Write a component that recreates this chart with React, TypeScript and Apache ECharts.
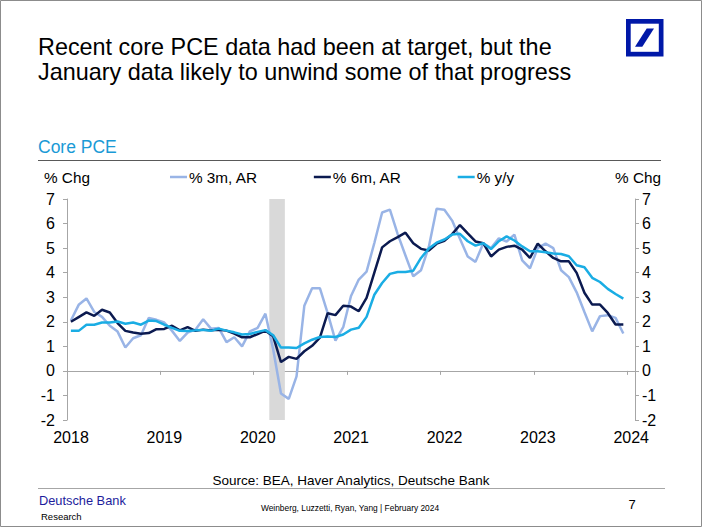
import React, { useEffect, useRef } from "react";
import * as echarts from "echarts";

// Monthly observations, Jan 2018 .. Dec 2023 (index 0 = Jan 2018)
const startYear = 2018;
const yearLabels = ["2018", "2019", "2020", "2021", "2022", "2023", "2024"];

const pce3m = [
  2.05, 2.69, 2.95, 2.4, 2.2, 1.84, 1.6, 0.95, 1.33, 1.45, 2.15, 2.08,
  1.97, 1.63, 1.22, 1.56, 1.68, 2.1, 1.72, 1.75, 1.17, 1.37, 1.0, 1.61,
  1.75, 2.33, 0.87, -0.92, -1.14, -0.22, 2.65, 3.37, 3.37, 2.35, 1.23, 1.78,
  3.05, 3.72, 4.04, 5.21, 6.45, 6.57, 5.57, 4.7, 3.85, 4.1, 5.05, 6.6,
  6.56, 6.12, 5.38, 4.66, 4.44, 5.2, 5.0, 5.4, 5.27, 5.55, 4.5, 4.18,
  5.0, 5.18, 5.0, 4.1, 3.82, 3.2, 2.4, 1.61, 2.23, 2.27, 2.16, 1.52,
];

const pce6m = [
  2.0, 2.19, 2.38, 2.24, 2.49, 2.38, 1.95, 1.63, 1.56, 1.51, 1.54, 1.7,
  1.71, 1.84, 1.65, 1.78, 1.63, 1.68, 1.65, 1.68, 1.64, 1.52, 1.37, 1.37,
  1.5, 1.64, 1.41, 0.36, 0.57, 0.49, 0.8, 1.02, 1.35, 2.35, 2.27, 2.65,
  2.62, 2.43, 2.97, 4.0, 5.03, 5.28, 5.45, 5.63, 5.2, 4.97, 4.9, 5.18,
  5.3, 5.57, 5.94, 5.6, 5.27, 5.2, 4.66, 4.94, 5.05, 5.1, 4.94, 4.6,
  5.18, 4.87, 4.6, 4.46, 4.46, 3.99, 3.18, 2.7, 2.7, 2.36, 1.89, 1.89,
];

const pceYoY = [
  1.63, 1.63, 1.88, 1.88, 1.97, 1.97, 2.01, 1.92, 1.97, 1.88, 2.05, 2.03,
  1.88, 1.75, 1.63, 1.62, 1.65, 1.67, 1.63, 1.72, 1.64, 1.57, 1.48, 1.5,
  1.59, 1.66, 1.45, 0.95, 0.95, 0.93, 1.12, 1.27, 1.38, 1.4, 1.38, 1.48,
  1.68, 1.76, 2.2, 3.1, 3.58, 3.95, 4.03, 4.03, 4.08, 4.6, 4.98, 5.22,
  5.35, 5.55, 5.58, 5.28, 5.1, 5.2, 4.96, 5.28, 5.48, 5.31, 5.07, 4.87,
  4.87, 4.83, 4.78, 4.76, 4.67, 4.3, 4.22, 3.79, 3.62, 3.34, 3.13, 2.94,
];

// Recession shading: Mar 2020 .. Apr 2020 (month boundaries)
const recessionStart = 26;
const recessionEnd = 28;

const seriesNames = ["% 3m, AR", "% 6m, AR", "% y/y"];
const yTicks = { min: -2, max: 7, interval: 1 };
const xRange = { min: 0, max: 73 };

const FONT = 'Arial, "Liberation Sans", sans-serif';

export default function App() {
  const ref = useRef<HTMLDivElement>(null);

  useEffect(() => {
    const chart = echarts.init(ref.current!, null, { renderer: "svg" });
    const toPts = (arr: number[]) => arr.map((v, i) => [i + 0.5, v]);
    const yearFmt = (v: number) =>
      v % 12 === 0 ? yearLabels[v / 12] ?? String(startYear + v / 12) : "";

    const axisGray = "#a6a6a6";

    chart.setOption({
      animation: false,
      backgroundColor: "#ffffff",
      textStyle: { fontFamily: FONT },
      grid: { left: 67, right: 67, top: 199, bottom: 107, containLabel: false },
      legend: {
        data: seriesNames,
        left: 170,
        top: 168,
        padding: 0,
        itemGap: 56,
        itemWidth: 17,
        itemHeight: 2.5,
        icon: "rect",
        textStyle: { fontSize: 15.3, color: "#000", fontFamily: FONT, lineHeight: 18, padding: [0, 0, 0, -3] },
      },
      xAxis: [
        {
          type: "value",
          min: xRange.min,
          max: xRange.max,
          interval: 12,
          position: "bottom",
          axisLine: { show: false, onZero: false },
          axisTick: { show: false },
          splitLine: { show: false },
          axisLabel: {
            formatter: yearFmt,
            fontSize: 16,
            color: "#000",
            fontFamily: FONT,
            margin: 9,
            padding: [0, 0, 0, 8],
          },
        },
        {
          type: "value",
          min: xRange.min,
          max: xRange.max,
          interval: 12,
          position: "bottom",
          axisLine: { show: true, onZero: true, onZeroAxisIndex: 0, lineStyle: { color: axisGray, width: 1 } },
          axisTick: { show: true, length: 4, lineStyle: { color: axisGray } },
          axisLabel: { show: false },
          splitLine: { show: false },
        },
      ],
      yAxis: [
        {
          type: "value",
          position: "left",
          min: yTicks.min,
          max: yTicks.max,
          interval: yTicks.interval,
          axisLine: { show: true, onZero: false, lineStyle: { color: axisGray } },
          axisTick: { show: true, length: 4, lineStyle: { color: axisGray } },
          splitLine: { show: false },
          axisLabel: { fontSize: 16, color: "#000", fontFamily: FONT, margin: 12 },
        },
        {
          type: "value",
          position: "right",
          min: yTicks.min,
          max: yTicks.max,
          interval: yTicks.interval,
          axisLine: { show: true, onZero: false, lineStyle: { color: axisGray } },
          axisTick: { show: true, length: 4, lineStyle: { color: axisGray } },
          splitLine: { show: false },
          axisLabel: { fontSize: 16, color: "#000", fontFamily: FONT, margin: 7 },
        },
      ],
      series: [
        {
          type: "line",
          data: [],
          z: 1,
          silent: true,
          markArea: {
            silent: true,
            itemStyle: { color: "#d9d9d9" },
            data: [[{ xAxis: recessionStart }, { xAxis: recessionEnd }]],
          },
        },
        {
          name: seriesNames[0],
          type: "line",
          data: toPts(pce3m),
          showSymbol: false,
          symbol: "none",
          z: 3,
          color: "#99b4e6",
          lineStyle: { width: 2.5, color: "#99b4e6" },
        },
        {
          name: seriesNames[1],
          type: "line",
          data: toPts(pce6m),
          showSymbol: false,
          symbol: "none",
          z: 4,
          color: "#0b1a50",
          lineStyle: { width: 2.5, color: "#0b1a50" },
        },
        {
          name: seriesNames[2],
          type: "line",
          data: toPts(pceYoY),
          showSymbol: false,
          symbol: "none",
          z: 5,
          color: "#1aade4",
          lineStyle: { width: 2.5, color: "#1aade4" },
        },
      ],
      graphic: [
        {
          type: "rect",
          shape: { x: 0.5, y: 0.5, width: 701, height: 526 },
          style: { fill: "none", stroke: "#8c8c8c", lineWidth: 1 },
          silent: true,
        },
        {
          type: "text",
          x: 38,
          y: 47,
          style: {
            text: "Recent core PCE data had been at target, but the",
            fill: "#000",
            font: `23.4px ${FONT}`,
            align: "left",
            verticalAlign: "middle",
          },
        },
        {
          type: "text",
          x: 38,
          y: 72,
          style: {
            text: "January data likely to unwind some of that progress",
            fill: "#000",
            font: `23.4px ${FONT}`,
            align: "left",
            verticalAlign: "middle",
          },
        },
        // Logo
        {
          type: "rect",
          shape: { x: 626, y: 19, width: 37.5, height: 37.5 },
          style: { fill: "#0018a8" },
        },
        {
          type: "rect",
          shape: { x: 630.7, y: 23.7, width: 28.1, height: 28.1 },
          style: { fill: "#ffffff" },
        },
        {
          type: "polygon",
          shape: {
            points: [
              [646.7, 28.5],
              [654, 28.5],
              [642.3, 46.7],
              [635, 46.7],
            ],
          },
          style: { fill: "#0018a8" },
        },
        {
          type: "text",
          x: 38,
          y: 147,
          style: {
            text: "Core PCE",
            fill: "#1a9ad6",
            font: `17.5px ${FONT}`,
            align: "left",
            verticalAlign: "middle",
          },
        },
        {
          type: "line",
          shape: { x1: 38, y1: 160.5, x2: 661, y2: 160.5 },
          style: { stroke: "#595959", lineWidth: 1 },
        },
        {
          type: "text",
          x: 44,
          y: 177,
          style: {
            text: "% Chg",
            fill: "#000",
            font: `15.3px ${FONT}`,
            align: "left",
            verticalAlign: "middle",
          },
        },
        {
          type: "text",
          x: 661,
          y: 177,
          style: {
            text: "% Chg",
            fill: "#000",
            font: `15.3px ${FONT}`,
            align: "right",
            verticalAlign: "middle",
          },
        },
        // Footer
        {
          type: "text",
          x: 351,
          y: 480,
          style: {
            text: "Source: BEA, Haver Analytics, Deutsche Bank",
            fill: "#000",
            font: `13.5px ${FONT}`,
            align: "center",
            verticalAlign: "middle",
          },
        },
        {
          type: "line",
          shape: { x1: 38, y1: 488.5, x2: 665, y2: 488.5 },
          style: { stroke: "#a6a6a6", lineWidth: 1 },
        },
        {
          type: "text",
          x: 39,
          y: 500,
          style: {
            text: "Deutsche Bank",
            fill: "#1d1d9c",
            font: `12.8px ${FONT}`,
            align: "left",
            verticalAlign: "middle",
          },
        },
        {
          type: "text",
          x: 41,
          y: 516,
          style: {
            text: "Research",
            fill: "#000",
            font: `9.5px ${FONT}`,
            align: "left",
            verticalAlign: "middle",
          },
        },
        {
          type: "text",
          x: 350,
          y: 508,
          style: {
            text: "Weinberg, Luzzetti, Ryan, Yang | February 2024",
            fill: "#000",
            font: `8.4px ${FONT}`,
            align: "center",
            verticalAlign: "middle",
          },
        },
        {
          type: "text",
          x: 632,
          y: 504,
          style: {
            text: "7",
            fill: "#000",
            font: `13px ${FONT}`,
            align: "center",
            verticalAlign: "middle",
          },
        },
      ],
    });

    return () => chart.dispose();
  }, []);

  return (
    <div
      ref={ref}
      style={{ position: "absolute", left: 0, top: 0, width: 702, height: 527, background: "#fff" }}
    />
  );
}
